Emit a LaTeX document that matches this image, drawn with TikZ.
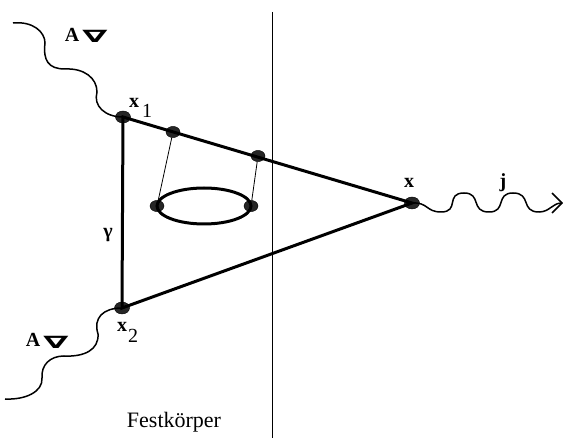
\documentclass[tikz,border=0pt]{standalone}
\usepackage{fontspec}
\setmainfont{Liberation Serif}
\newfontfamily\symfont{DejaVu Sans}
\usetikzlibrary{shapes.geometric}
\tikzset{
  vertex/.style={ellipse,fill=black!85,draw=black,inner sep=0pt,minimum width=#1,minimum height=#1*0.8},
  vertex/.default=12pt,
  heavy/.style={line width=3pt},
  thin link/.style={line width=0.8pt},
  wave/.style={line width=1.5pt},
  lab/.style={font=\bfseries\fontsize{20}{20}\selectfont,inner sep=0pt},
  sub/.style={font=\fontsize{20}{20}\selectfont,inner sep=0pt},
  nab/.style={font=\symfont\bfseries\fontsize{20}{20}\selectfont,inner sep=0pt,xscale=1.8,yscale=.85,transform shape},
  plain/.style={font=\fontsize{22}{22}\selectfont,inner sep=0pt}
}
\begin{document}
\begin{tikzpicture}[x=1pt,y=-1pt]
\useasboundingbox (0,0) rectangle (563,438);
\fill[white] (0,0) rectangle (563,438);
\coordinate (top) at (272,12);
\coordinate (bot) at (272,438);
\draw[line width=0.8pt] (top) -- (bot);
\node[vertex=15pt] (x1) at (123,117) {};
\node[vertex=15pt] (x2) at (122,308) {};
\node[vertex=15pt] (x)  at (412,203) {};
\node[vertex=14pt] (v1) at (173,132) {};
\node[vertex=14pt] (v2) at (258,156) {};
\node[vertex=14pt] (l1) at (157,206) {};
\node[vertex=14pt] (l2) at (251,206) {};
\draw[heavy] (x1.center) -- (x.center) -- (x2.center) -- cycle;
\draw[line width=3pt] (204,206) ellipse (47pt and 18pt);
\draw[thin link] (v1) -- (l1);
\draw[thin link] (v2) -- (l2);
\coordinate (a1) at (13,23);
\coordinate (a2) at (5,399);
\coordinate (jend) at (562,203);
\draw[wave] (a1) .. controls (33,21) and (45,32) .. (45,43)
  .. controls (43,60) and (48,69) .. (65,69)
  .. controls (84,68) and (97,78) .. (97,92)
  .. controls (93,106) and (105,117) .. (x1.center);
\draw[wave] (a2) .. controls (25,400) and (43,392) .. (42,378)
  .. controls (41,365) and (50,356) .. (64,356)
  .. controls (84,357) and (99,350) .. (98,334)
  .. controls (93,318) and (103,308) .. (x2.center);
\draw[wave] (x.center) .. controls (428,202) and (426,212) .. (441,212)
  .. controls (460,212) and (445,193) .. (464,193)
  .. controls (482,193) and (470,212) .. (489,212)
  .. controls (507,212) and (495,193) .. (513,193)
  .. controls (532,193) and (520,212) .. (539,212)
  .. controls (550,212) and (552,203) .. (jend);
\coordinate (h1) at (552,193);
\coordinate (h2) at (552,213);
\draw[wave] (h1) -- (jend) -- (h2);
\node[lab,anchor=base] (ta) at (72,42) {A};
\node[nab] (tn) at (95,36) {∇};
\node[lab,anchor=base] (tb) at (33,347) {A};
\node[nab] (tm) at (56,342) {∇};
\node[lab,anchor=base] (t1) at (134,108) {x};
\node[sub,anchor=base] (s1) at (147,118) {1};
\node[lab,anchor=base] (t2) at (122,332) {x};
\node[sub,anchor=base] (s2) at (133,343) {2};
\node[lab,anchor=base] (tx) at (409,188) {x};
\node[lab,anchor=base] (tj) at (503,188) {j};
\node[lab,anchor=base] (tg) at (108,238) {γ};
\node[plain,anchor=base] (tf) at (174,428) {Festkörper};
\end{tikzpicture}
\end{document}
